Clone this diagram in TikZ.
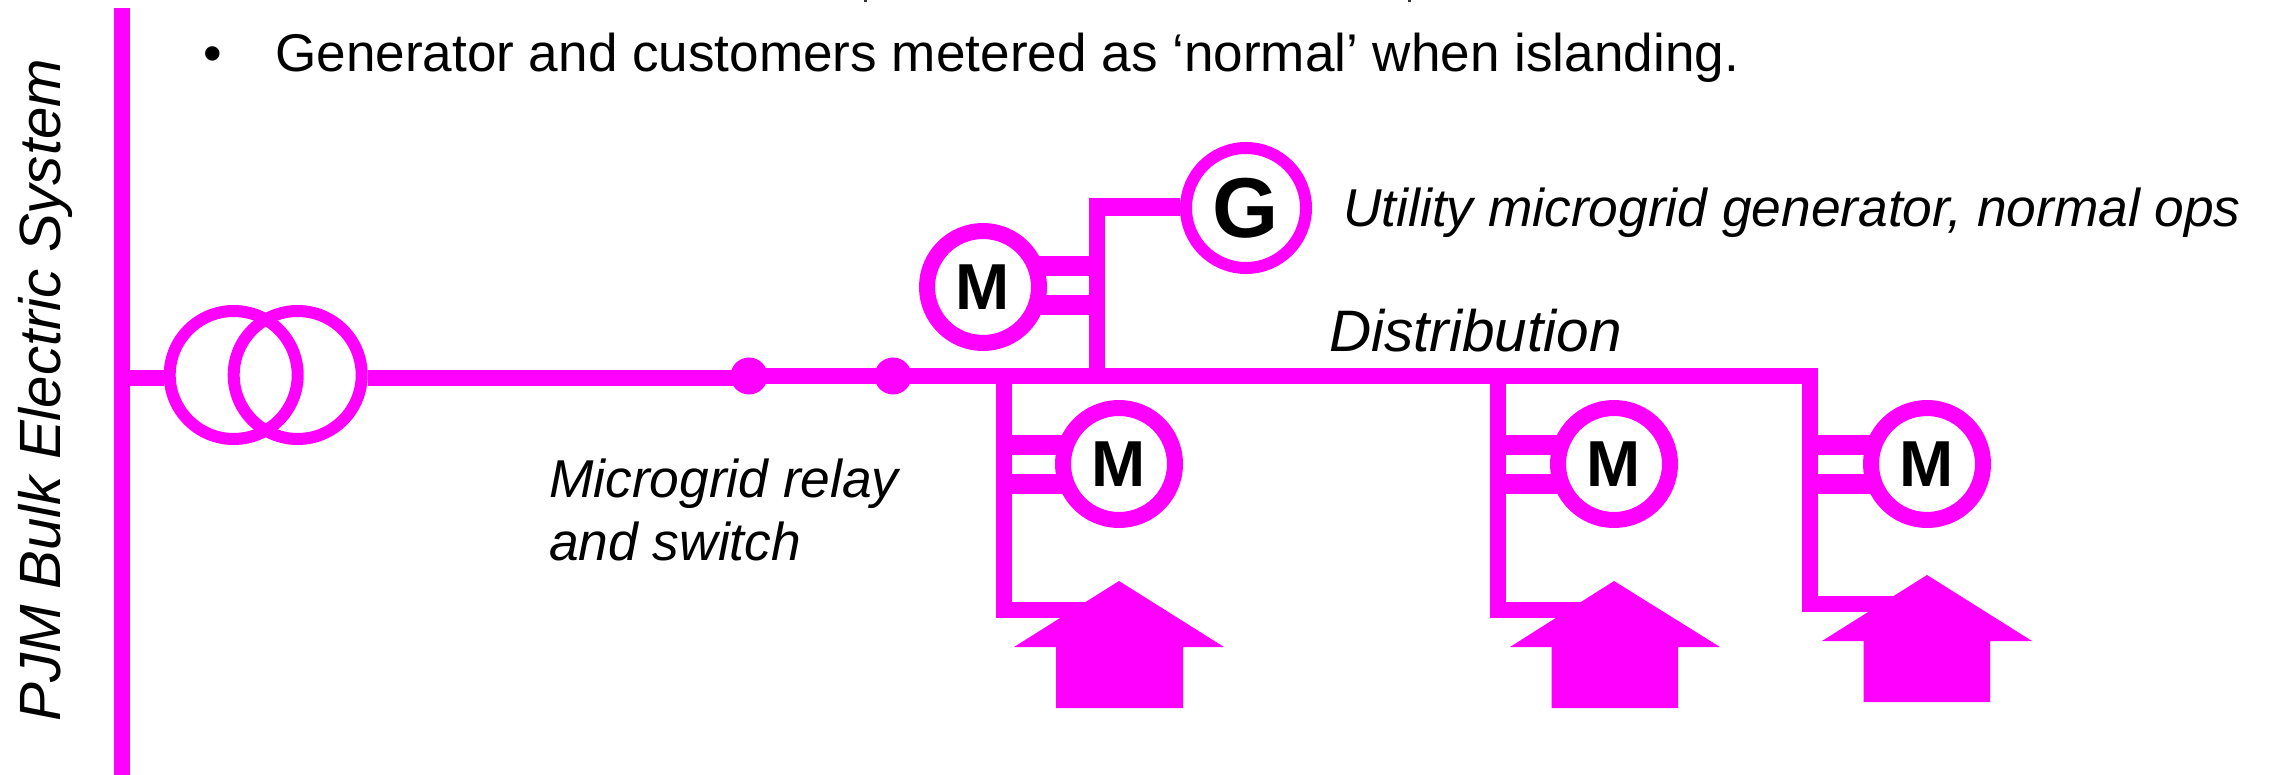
\documentclass[tikz,border=0pt]{standalone}
\usepackage{fontspec}
\setmainfont{Liberation Sans}
\definecolor{mag}{RGB}{255,0,255}
\newcommand{\fsz}[1]{\fontsize{#1}{#1}\selectfont}
\tikzset{
  wire/.style={draw=mag,line width=16pt,line join=miter,line cap=butt},
  barwire/.style={draw=mag,line width=19.5pt,line cap=butt},
  motor/.style={circle,draw=mag,fill=white,line width=16pt,minimum size=112pt,inner sep=0pt,font=\fsz{65}\bfseries,text=black},
  gen/.style={circle,draw=mag,fill=white,line width=12pt,minimum size=120pt,inner sep=0pt,font=\fsz{85}\bfseries,text=black},
  coil/.style={circle,draw=mag,line width=12pt,minimum size=128pt,inner sep=0pt},
  relay/.style={circle,fill=mag,minimum size=37pt,inner sep=0pt},
  house/.style={fill=mag},
  lab/.style={anchor=base west,inner sep=0pt,font=\fsz{53.3}\itshape,text=black},
  bul/.style={anchor=base west,inner sep=0pt,font=\fsz{53.1},text=black}
}
\begin{document}
\begin{tikzpicture}[x=1pt,y=-1pt]
\useasboundingbox[fill=white] (0,0) rectangle (2270,775);
% nodes
\node[coil] (t1) at (233.7,375) {};
\node[coil] (t2) at (297.7,375) {};
\node[relay] (r1) at (749,376) {};
\node[relay] (r2) at (893,376) {};
\coordinate (bt) at (122,8);
\coordinate (bb) at (122,775);
\coordinate (bs) at (122,378);
\coordinate (j0) at (749,378);
\coordinate (j1) at (1004,376);
\coordinate (j2) at (1097,376);
\coordinate (j3) at (1498,376);
\coordinate (j4) at (1810,376);
\coordinate (k1) at (1004,610);
\coordinate (k3) at (1498,610);
\coordinate (k4) at (1810,604);
\coordinate (gt) at (1097,207);
% motors' connectors are drawn first, the white-filled nodes cover the ends
\draw[barwire] (1097,266) -- (983,266);
\draw[barwire] (1097,305) -- (983,305);
\draw[barwire] (1004,445) -- (1119,445);
\draw[barwire] (1004,484) -- (1119,484);
\draw[barwire] (1498,445) -- (1614,445);
\draw[barwire] (1498,484) -- (1614,484);
\draw[barwire] (1810,445) -- (1927,445);
\draw[barwire] (1810,484) -- (1927,484);
\node[motor] (m0) at (983,287) {M};
\node[motor] (m1) at (1119,464) {M};
\node[motor] (m2) at (1614,464) {M};
\node[motor] (m3) at (1927,464) {M};
\node[gen] (g) at (1246,208) {G};
% connectors
\draw[wire] (bt) -- (bb);
\draw[wire] (bs) -- (t1.west |- bs);
\draw[wire] (t2.east |- j0) -- (j0);
\draw[wire] (r1.center) -- (r2.center);
\draw[wire] (r2.center) -- (j2) -- (j3) -- (j4) -- (k4) -- (1927,604);
\draw[wire] (j1) -- (k1) -- (1119,610);
\draw[wire] (j3) -- (k3) -- (1614,610);
\draw[wire] (j2) -- (gt);
\draw[draw=mag,line width=18pt,line cap=butt] (1089,207) -- (g.west |- gt);
% houses
\fill[house] (1119,581) -- (1224,647) -- (1183,647) -- (1183,708) -- (1056,708) -- (1056,647) -- (1014,647) -- cycle;
\fill[house] (1614,581) -- (1720,647) -- (1678,647) -- (1678,708) -- (1551.5,708) -- (1551.5,647) -- (1510,647) -- cycle;
\fill[house] (1927,575) -- (2032,641) -- (1990,641) -- (1990,702) -- (1863.5,702) -- (1863.5,641) -- (1822,641) -- cycle;
% texts
\node[bul] (bullet) at (203,72) {•};
\node[bul] (head) at (275,72) {Generator and customers metered as ‘normal’ when islanding.};
\node[lab] (gl) at (1343,227) {Utility microgrid generator, normal ops};
\node[lab,font=\fsz{58.5}\itshape] (dl) at (1329,352) {Distribution};
\node[lab] (ml1) at (549,497) {Microgrid relay};
\node[lab] (ml2) at (549,560) {and switch};
\node[lab,rotate=90,font=\fsz{58.2}\itshape] (pjm) at (60,722) {PJM Bulk Electric System};
% clipped remnants at the top edge
\fill[black!80] (864,0) rectangle (867,2);
\fill[black!80] (1408,0) rectangle (1411,2);
\end{tikzpicture}
\end{document}
